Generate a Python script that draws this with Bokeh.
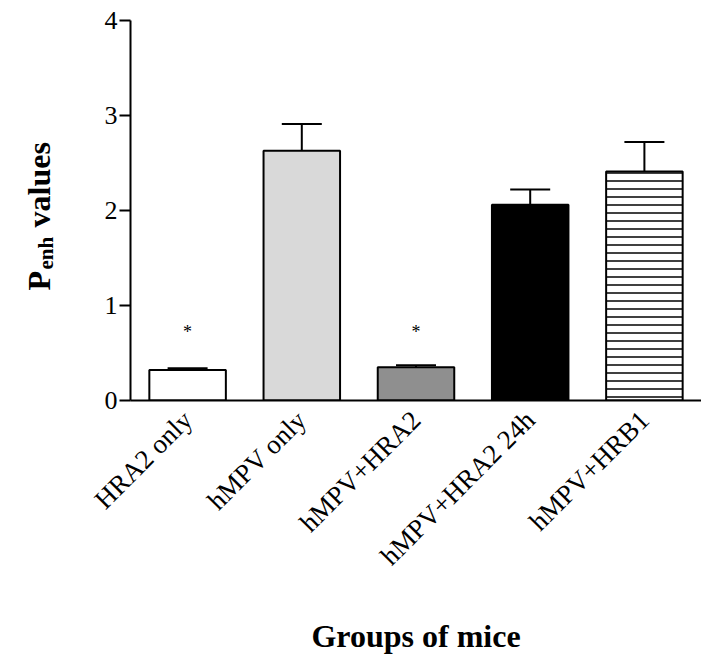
import math
from bokeh.plotting import figure
from bokeh.layouts import row
from bokeh.models import ColumnDataSource, FactorRange, Whisker, TeeHead, FixedTicker
from bokeh.core.properties import value
from bokeh.embed import file_html
from bokeh.resources import INLINE

# ---- data ----
groups = ["HRA2 only", "hMPV only", "hMPV+HRA2", "hMPV+HRA2 24h", "hMPV+HRB1"]
penh_mean = [0.32, 2.63, 0.35, 2.06, 2.41]
penh_sem = [0.02, 0.28, 0.02, 0.16, 0.31]
fill_colors = ["#ffffff", "#d9d9d9", "#8f8f8f", "#000000", "#ffffff"]
hatches = [" ", " ", " ", " ", "-"]
star_groups = ["HRA2 only", "hMPV+HRA2"]
star_y = [0.72, 0.72]
y_ticks = [0, 1, 2, 3, 4]
y_title_parts = ["P", "enh", "values"]

FONT = "Liberation Serif"
H = 656
LW = 60  # width of the y-title strip
TOP, BOTTOM = 20, 256

# ---- y-axis title strip (P with subscript "enh") ----
# its frame is aligned with the chart's frame; data units = pixels from canvas bottom
pl = figure(width=LW, height=H, x_range=(0, LW), y_range=(BOTTOM, H - TOP),
            min_border_left=0, min_border_right=0,
            min_border_top=TOP, min_border_bottom=BOTTOM,
            output_backend="svg", toolbar_location=None,
            x_axis_type=None, y_axis_type=None)
pl.outline_line_color = None
pl.xgrid.grid_line_color = None
pl.ygrid.grid_line_color = None
pl.text(x=[38, 45, 38], y=[366, 387, 429], text=y_title_parts,
        angle=math.pi / 2, text_font=value(FONT), text_font_style="bold",
        text_font_size=["32px", "21px", "32px"], text_align="left",
        text_baseline="alphabetic", text_color="black")

# ---- main chart ----
src = ColumnDataSource(data=dict(
    x=groups,
    top=penh_mean,
    upper=[m + s for m, s in zip(penh_mean, penh_sem)],
    fill=fill_colors,
    hatch=hatches,
))

p = figure(
    x_range=FactorRange(factors=groups, range_padding=0),
    y_range=(0, 4),
    width=701 - LW, height=H,
    min_border_left=130 - LW, min_border_right=0,
    min_border_top=TOP, min_border_bottom=BOTTOM,
    output_backend="svg", toolbar_location=None,
)
p.outline_line_color = None
p.xgrid.grid_line_color = None
p.ygrid.grid_line_color = None

p.vbar(x="x", top="top", width=0.67, bottom=0, source=src,
       fill_color="fill", line_color="black", line_width=2,
       hatch_pattern="hatch", hatch_color="black", hatch_weight=1.5, hatch_scale=8)

w = Whisker(source=src, base="x", lower="top", upper="upper",
            line_color="black", line_width=2,
            upper_head=TeeHead(size=40, line_width=2, line_color="black"),
            lower_head=None)
p.add_layout(w)

p.text(x=star_groups, y=star_y, text=["*", "*"], text_font=value(FONT),
       text_font_size="18px", text_align="center", text_baseline="middle",
       text_color="black")

# y axis
p.yaxis.ticker = FixedTicker(ticks=y_ticks)
p.yaxis.axis_line_width = 2
p.yaxis.axis_line_color = "black"
p.yaxis.major_tick_line_width = 2
p.yaxis.major_tick_line_color = "black"
p.yaxis.major_tick_out = 11
p.yaxis.major_tick_in = 0
p.yaxis.minor_tick_line_color = None
p.yaxis.major_label_text_font = FONT
p.yaxis.major_label_text_font_size = "26px"
p.yaxis.major_label_text_color = "black"
p.yaxis.major_label_standoff = 2

# x axis
p.xaxis.axis_line_width = 2
p.xaxis.axis_line_color = "black"
p.xaxis.major_tick_line_color = None
p.xaxis.major_tick_out = 0
p.xaxis.major_tick_in = 0
p.xaxis.minor_tick_line_color = None
p.xaxis.major_label_orientation = math.pi / 4
p.xaxis.major_label_text_font = FONT
p.xaxis.major_label_text_font_size = "27px"
p.xaxis.major_label_text_color = "black"
p.xaxis.major_label_standoff = 15
p.xaxis.axis_label = "Groups of mice"
p.xaxis.axis_label_text_font = FONT
p.xaxis.axis_label_text_font_style = "bold"
p.xaxis.axis_label_text_font_size = "32px"
p.xaxis.axis_label_text_color = "black"
p.xaxis.axis_label_standoff = 33

layout = row(pl, p, spacing=0)
open("out.html", "w").write(file_html(layout, INLINE))
